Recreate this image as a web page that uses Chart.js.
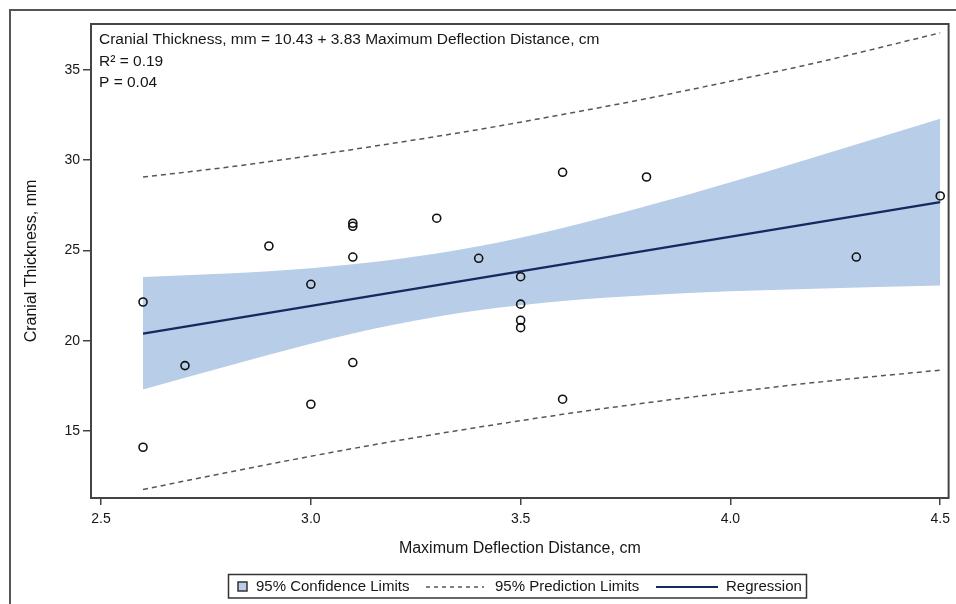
<!DOCTYPE html>
<html>
<head>
<meta charset="utf-8">
<script src="https://cdn.jsdelivr.net/npm/chart.js@4"></script>
<style>
  html, body { margin: 0; padding: 0; background: #fff; }
  canvas { display: block; }
</style>
</head>
<body>
<canvas id="chart" width="956" height="604"></canvas>
<script>
// Observed measurements
const deflection = [2.6, 2.6, 2.7, 2.9, 3.0, 3.0, 3.1, 3.1, 3.1, 3.1, 3.3, 3.4, 3.5, 3.5, 3.5, 3.5, 3.6, 3.6, 3.8, 4.3, 4.5];
const thickness  = [22.14, 14.1, 18.62, 25.24, 23.12, 16.48, 26.5, 26.33, 24.63, 18.79, 26.78, 24.56, 23.54, 22.02, 21.13, 20.72, 29.32, 16.76, 29.06, 24.63, 28.01];

// Fitted line: thickness = 10.43 + 3.83 * deflection
const regX = [2.6, 4.5];
const regY = [20.39, 27.67];

// 95% confidence and prediction limits
const limitX    = [2.6, 2.8, 3.0, 3.2, 3.4, 3.6, 3.8, 4.0, 4.2, 4.5];
const confUpper = [23.53, 23.72, 24.01, 24.49, 25.22, 26.24, 27.45, 28.77, 30.16, 32.29];
const confLower = [17.3, 18.58, 19.83, 20.89, 21.68, 22.2, 22.51, 22.73, 22.88, 23.05];
const predUpper = [29.06, 29.6, 30.24, 30.94, 31.69, 32.52, 33.4, 34.36, 35.36, 37.04];
const predLower = [11.76, 12.7, 13.6, 14.44, 15.21, 15.92, 16.56, 17.14, 17.68, 18.37];

// Axis ticks
const xTicks = [2.5, 3.0, 3.5, 4.0, 4.5];
const yTicks = [15, 20, 25, 30, 35];

// Text
const xTitle = 'Maximum Deflection Distance, cm';
const yTitle = 'Cranial Thickness, mm';
const fitLines = ['Cranial Thickness, mm = 10.43 + 3.83 Maximum Deflection Distance, cm', 'R\u00B2 = 0.19', 'P = 0.04'];
const legendLabels = ['95% Confidence Limits', '95% Prediction Limits', 'Regression'];

const FONT = '"Liberation Sans", Arial, Helvetica, sans-serif';
const TEXT = '#161616';
const BAND = '#b7cde8';
const NAVY = '#14295e';
const DASH = '#56565f';
const FRAME = '#444444';

const pairs = (xs, ys) => xs.map((x, i) => ({ x: x, y: ys[i] }));

const pagePlugin = {
  id: 'pageDecor',
  beforeDraw(chart) {
    const ctx = chart.ctx;
    ctx.save();
    ctx.fillStyle = '#ffffff';
    ctx.fillRect(0, 0, chart.width, chart.height);
    // outer border
    ctx.strokeStyle = '#555555';
    ctx.lineWidth = 2;
    ctx.beginPath();
    ctx.moveTo(10, chart.height + 5);
    ctx.lineTo(10, 10);
    ctx.lineTo(chart.width + 5, 10);
    ctx.stroke();
    ctx.restore();
  },
  afterDatasetsDraw(chart) {
    const ctx = chart.ctx;
    const a = chart.chartArea;
    ctx.save();
    // plot frame
    ctx.strokeStyle = FRAME;
    ctx.lineWidth = 2;
    ctx.strokeRect(a.left, a.top, a.right - a.left, a.bottom - a.top);

    // fit statistics
    ctx.fillStyle = TEXT;
    ctx.font = '15.5px ' + FONT;
    ctx.textBaseline = 'middle';
    ctx.textAlign = 'left';
    const ys = [40, 62, 83];
    fitLines.forEach((t, i) => ctx.fillText(t, a.left + 8, ys[i]));

    // legend
    const lx = 228.5, ly = 574.5, lw = 578, lh = 23.5, cy = 587;
    ctx.lineWidth = 1.5;
    ctx.strokeStyle = '#333333';
    ctx.strokeRect(lx, ly, lw, lh);

    ctx.fillStyle = BAND;
    ctx.fillRect(238, 582, 9, 9);
    ctx.strokeStyle = '#333333';
    ctx.lineWidth = 1.5;
    ctx.strokeRect(238, 582, 9, 9);

    ctx.fillStyle = TEXT;
    ctx.font = '15px ' + FONT;
    ctx.fillText(legendLabels[0], 256, cy);

    ctx.strokeStyle = DASH;
    ctx.lineWidth = 1.5;
    ctx.setLineDash([4, 4]);
    ctx.beginPath();
    ctx.moveTo(426, cy);
    ctx.lineTo(484, cy);
    ctx.stroke();
    ctx.setLineDash([]);
    ctx.fillText(legendLabels[1], 495, cy);

    ctx.strokeStyle = NAVY;
    ctx.lineWidth = 2;
    ctx.beginPath();
    ctx.moveTo(656, cy);
    ctx.lineTo(718, cy);
    ctx.stroke();
    ctx.fillText(legendLabels[2], 726, cy);
    ctx.restore();
  }
};

new Chart(document.getElementById('chart'), {
  type: 'line',
  data: {
    datasets: [
      {
        label: 'Observed',
        data: pairs(deflection, thickness),
        showLine: false,
        pointRadius: 4,
        pointBorderWidth: 1.6,
        pointBorderColor: '#111111',
        pointBackgroundColor: 'rgba(0,0,0,0)',
        borderColor: '#111111'
      },
      {
        label: legendLabels[2],
        data: pairs(regX, regY),
        borderColor: NAVY,
        borderWidth: 2.4,
        pointRadius: 0,
        fill: false
      },
      {
        label: 'Upper prediction',
        data: pairs(limitX, predUpper),
        borderColor: DASH,
        borderWidth: 1.5,
        borderDash: [5, 4],
        pointRadius: 0,
        cubicInterpolationMode: 'monotone',
        fill: false
      },
      {
        label: 'Lower prediction',
        data: pairs(limitX, predLower),
        borderColor: DASH,
        borderWidth: 1.5,
        borderDash: [5, 4],
        pointRadius: 0,
        cubicInterpolationMode: 'monotone',
        fill: false
      },
      {
        label: 'Upper confidence',
        data: pairs(limitX, confUpper),
        borderColor: 'rgba(0,0,0,0)',
        borderWidth: 0,
        backgroundColor: BAND,
        pointRadius: 0,
        cubicInterpolationMode: 'monotone',
        fill: '+1'
      },
      {
        label: 'Lower confidence',
        data: pairs(limitX, confLower),
        borderColor: 'rgba(0,0,0,0)',
        borderWidth: 0,
        pointRadius: 0,
        cubicInterpolationMode: 'monotone',
        fill: false
      }
    ]
  },
  options: {
    responsive: false,
    devicePixelRatio: 1,
    animation: false,
    events: [],
    layout: { padding: { left: 0, top: 24, right: 6, bottom: 0 } },
    plugins: {
      legend: { display: false },
      tooltip: { enabled: false },
      title: { display: false }
    },
    scales: {
      x: {
        type: 'linear',
        min: 2.476,
        max: 4.52,
        afterBuildTicks(scale) { scale.ticks = xTicks.map(v => ({ value: v })); },
        afterFit(scale) { scale.height = 106; },
        ticks: {
          callback: v => Number(v).toFixed(1),
          color: TEXT,
          font: { family: FONT, size: 14 },
          padding: 6,
          maxRotation: 0,
          autoSkip: false
        },
        grid: { display: true, drawOnChartArea: false, drawTicks: true, tickLength: 7, color: FRAME, lineWidth: 1.5 },
        border: { display: false },
        title: {
          display: true,
          text: xTitle,
          color: TEXT,
          font: { family: FONT, size: 16 },
          padding: { top: 0, bottom: 46 }
        }
      },
      y: {
        type: 'linear',
        min: 11.29,
        max: 37.53,
        afterBuildTicks(scale) { scale.ticks = yTicks.map(v => ({ value: v })); },
        afterFit(scale) { scale.width = 91; },
        ticks: {
          callback: v => String(v),
          color: TEXT,
          font: { family: FONT, size: 14 },
          padding: 3,
          autoSkip: false
        },
        grid: { display: true, drawOnChartArea: false, drawTicks: true, tickLength: 8, color: FRAME, lineWidth: 1.5 },
        border: { display: false },
        title: {
          display: true,
          text: yTitle,
          color: TEXT,
          font: { family: FONT, size: 16 },
          padding: { top: 22, bottom: 0 }
        }
      }
    }
  },
  plugins: [pagePlugin]
});
</script>
</body>
</html>
